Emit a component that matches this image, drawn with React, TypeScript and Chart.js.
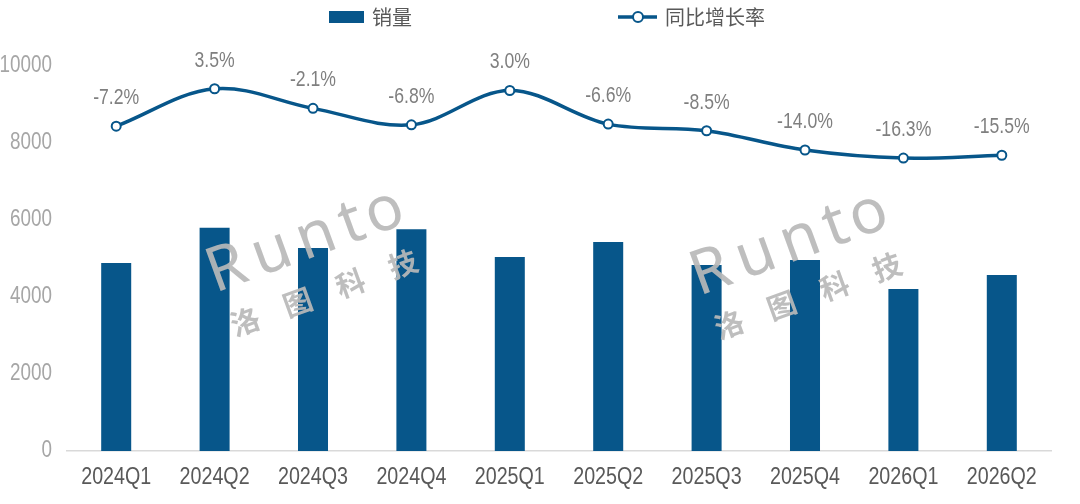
import { useEffect, useRef } from "react";
import { Chart, registerables } from "chart.js";

Chart.register(...registerables);

// --- data ---
const quarters = ["2024Q1", "2024Q2", "2024Q3", "2024Q4", "2025Q1", "2025Q2", "2025Q3", "2025Q4", "2026Q1", "2026Q2"];
const sales = [4880, 5800, 5270, 5760, 5040, 5430, 4830, 4960, 4210, 4570];
const yoyGrowth = [-7.2, 3.5, -2.1, -6.8, 3.0, -6.6, -8.5, -14.0, -16.3, -15.5];
const salesTicks = [0, 2000, 4000, 6000, 8000, 10000];
const seriesNames = ["销量", "同比增长率"];

const BLUE = "#07568a";
const LATIN = '"Liberation Sans", Arial, sans-serif';
const CJK = '"Noto Sans CJK SC", sans-serif';
const NARROW = 0.82; // no narrow face installed, so squeeze Liberation Sans

function narrowText(
  ctx: CanvasRenderingContext2D,
  text: string,
  x: number,
  y: number,
  align: CanvasTextAlign
) {
  ctx.save();
  ctx.translate(x, y);
  ctx.scale(NARROW, 1);
  ctx.textAlign = align;
  ctx.textBaseline = "middle";
  ctx.fillText(text, 0, 0);
  ctx.restore();
}

// legend drawn by hand: rect for bars, line + hollow dot for the rate
const legendPlugin = {
  id: "topLegend",
  afterDraw(chart: Chart) {
    const { ctx } = chart;
    const cx = chart.width / 2;
    const y = 17;
    ctx.save();
    ctx.fillStyle = BLUE;
    ctx.fillRect(cx - 211, y - 6, 35, 12);
    ctx.font = `20px ${CJK}`;
    ctx.fillStyle = "#595959";
    ctx.textBaseline = "middle";
    ctx.fillText(seriesNames[0], cx - 168, y);

    ctx.strokeStyle = BLUE;
    ctx.lineWidth = 3.5;
    ctx.beginPath();
    ctx.moveTo(cx + 78, y);
    ctx.lineTo(cx + 117, y);
    ctx.stroke();
    ctx.beginPath();
    ctx.arc(cx + 98, y, 5, 0, Math.PI * 2);
    ctx.fillStyle = "#fff";
    ctx.fill();
    ctx.lineWidth = 2;
    ctx.stroke();
    ctx.fillStyle = "#595959";
    ctx.fillText(seriesNames[1], cx + 125, y);
    ctx.restore();
  },
};

// axis tick labels, drawn squeezed like the narrow font of the original
const tickLabels = {
  id: "tickLabels",
  afterDraw(chart: Chart) {
    const { ctx, scales } = chart;
    ctx.save();
    ctx.fillStyle = "#a6a6a6";
    ctx.font = `23px ${LATIN}`;
    salesTicks.forEach((v) => {
      narrowText(ctx, String(v), scales.y.left + 52, scales.y.getPixelForValue(v), "right");
    });
    ctx.fillStyle = "#595959";
    ctx.font = `24px ${LATIN}`;
    quarters.forEach((q, i) => {
      narrowText(ctx, q, scales.x.getPixelForValue(i), scales.x.top + 26, "center");
    });
    ctx.restore();
  },
};

function drawMark(ctx: CanvasRenderingContext2D, x: number, y: number) {
  ctx.save();
  ctx.translate(x, y);
  ctx.rotate((-20 * Math.PI) / 180);
  ctx.fillStyle = "rgba(185,185,185,0.92)";
  ctx.textBaseline = "alphabetic";
  ctx.font = `62px "Noto Sans", sans-serif`;
  const steps = [0, 48, 95, 141, 168];
  "Runto".split("").forEach((ch, i) => ctx.fillText(ch, steps[i], 0));
  ctx.font = `bold 29px ${CJK}`;
  "洛图科技".split("").forEach((ch, i) => ctx.fillText(ch, 4 + i * 56, 48));
  ctx.restore();
}

const markPlugin = {
  id: "watermark",
  afterDatasetsDraw(chart: Chart) {
    const { ctx, chartArea } = chart;
    ctx.save();
    ctx.beginPath();
    ctx.rect(chartArea.left, 0, chartArea.width, chartArea.bottom);
    ctx.clip();
    drawMark(ctx, chartArea.left + 148, chartArea.top + 227);
    drawMark(ctx, chartArea.left + 632, chartArea.top + 230);
    ctx.restore();
  },
};

const rateLabels = {
  id: "rateLabels",
  afterDatasetsDraw(chart: Chart) {
    const { ctx } = chart;
    const meta = chart.getDatasetMeta(1);
    ctx.save();
    ctx.font = `21.5px ${LATIN}`;
    ctx.fillStyle = "#7f7f7f";
    meta.data.forEach((pt, i) => {
      narrowText(ctx, `${yoyGrowth[i].toFixed(1)}%`, pt.x, pt.y - 28, "center");
    });
    ctx.restore();
  },
};

export default function App() {
  const canvasRef = useRef<HTMLCanvasElement | null>(null);

  useEffect(() => {
    document.body.style.margin = "0";
    if (!canvasRef.current) return;
    const chart = new Chart(canvasRef.current, {
      type: "bar",
      data: {
        labels: quarters,
        datasets: [
          {
            type: "bar",
            label: seriesNames[0],
            data: sales,
            backgroundColor: BLUE,
            barPercentage: 0.305,
            categoryPercentage: 1,
            yAxisID: "y",
            order: 2,
          },
          {
            type: "line",
            label: seriesNames[1],
            data: yoyGrowth,
            borderColor: BLUE,
            borderWidth: 3.5,
            tension: 0.35,
            pointRadius: 4.5,
            pointBorderWidth: 2,
            pointBackgroundColor: "#fff",
            pointBorderColor: BLUE,
            yAxisID: "y1",
            order: 1,
          },
        ],
      },
      options: {
        animation: false,
        responsive: true,
        maintainAspectRatio: false,
        layout: { padding: { top: 66, right: 29, left: 0, bottom: 0 } },
        plugins: { legend: { display: false }, tooltip: { enabled: false } },
        scales: {
          x: {
            grid: { display: false, drawTicks: false },
            border: { color: "#d9d9d9", width: 1.5 },
            ticks: { display: false },
            afterFit: (s: any) => {
              s.height = 53;
            },
          },
          y: {
            min: 0,
            max: 10000,
            grid: { display: false, drawTicks: false },
            border: { display: false },
            ticks: { display: false },
            afterBuildTicks: (s: any) => {
              s.ticks = salesTicks.map((v) => ({ value: v }));
            },
            afterFit: (s: any) => {
              s.width = 67;
            },
          },
          y1: {
            display: false,
            position: "right",
            min: -100,
            max: 10,
          },
        },
      },
      plugins: [markPlugin, rateLabels, tickLabels, legendPlugin],
    });
    return () => chart.destroy();
  }, []);

  return (
    <div style={{ width: 1080, height: 504, position: "relative", background: "#fff" }}>
      <canvas ref={canvasRef} />
    </div>
  );
}
